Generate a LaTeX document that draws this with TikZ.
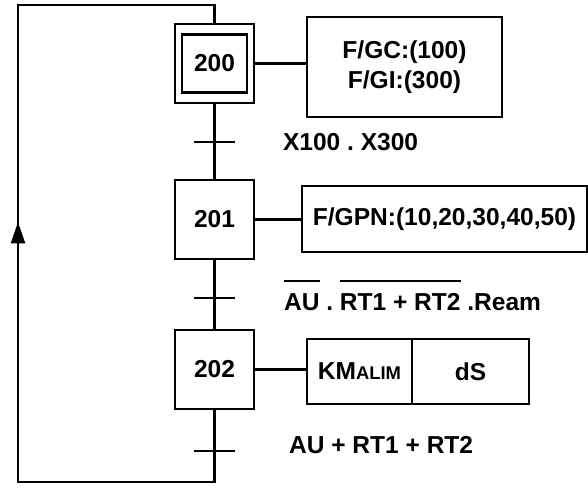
\documentclass[tikz,border=0pt]{standalone}
\usepackage{fontspec}
\setmainfont{Liberation Sans}
\usetikzlibrary{arrows.meta,calc,positioning}
\frenchspacing

% bar over a receptivity variable
\newcommand{\barre}[1]{\leavevmode\vbox{\hrule height 1.5pt \vskip 8pt \hbox{#1}}}

\begin{document}
\begin{tikzpicture}[x=0.75pt, y=-0.75pt, line width=1.6pt, >=Stealth,
    font=\fontsize{18.4}{22.5}\selectfont\bfseries,
    etape/.style={draw, minimum size=59.25pt, inner sep=0pt},
    action/.style={draw, inner sep=0pt, outer sep=0pt},
    recep/.style={anchor=base west, inner sep=0pt}]
    \useasboundingbox (0,0) rectangle (588,487);

    % Steps
    \node[etape] (s200) at (214.5,63.5) {};
    \node[draw, minimum width=48.75pt, minimum height=43.5pt, inner sep=0pt] (s200i) at (s200) {200};
    \node[etape] (s201) at (214.5,219.5) {201};
    \node[etape] (s202) at (214.5,369.5) {202};

    % Actions
    \node[action, minimum width=146.25pt, minimum height=75pt, align=center] (a200) at (404.5,67) {F/GC:(100)\\F/GI:(300)};
    \node[action, minimum width=213.75pt, minimum height=49.5pt] (a201) at (444.5,219) {F/GPN:(10,20,30,40,50)};
    \node[action, minimum width=78.75pt, minimum height=48.75pt] (a202a) at (359.5,371.5) {KM{\fontsize{13.8}{16}\selectfont ALIM}};
    \node[action, minimum width=87.75pt, minimum height=48.75pt, right=0pt of a202a] (a202b) {dS};

    \draw (s200.east) -- (s200.east -| a200.west);
    \draw (s201.east) -- (s201.east -| a201.west);
    \draw (s202.east) -- (s202.east -| a202a.west);

    % Links and loop back
    \coordinate (bl) at (18,482);
    \coordinate (tl) at (18,5);
    \coordinate (fl) at (18,222);
    \draw (s200.south) -- (s201.north);
    \draw (s201.south) -- (s202.north);
    \draw (s202.south) -- (s202.south |- bl) -- (bl) -- (tl) -- (s200.north |- tl) -- (s200.north);
    \draw[-{Triangle[length=16pt,width=10.5pt]}] (bl) -- (fl);

    % Transitions
    \coordinate (t1) at (s200.south |- 0,142);
    \coordinate (t2) at (s201.south |- 0,298);
    \coordinate (t3) at (s202.south |- 0,451);
    \foreach \t in {t1,t2,t3} {
        \draw ([xshift=-15.4pt]\t) -- ([xshift=15.4pt]\t);
    }

    % Receptivities
    \node[recep] (r1) at (282,150) {X100 . X300};
    \node[recep] (r2) at (283,310) {\barre{AU} . \barre{RT1 + RT2} .Ream};
    \node[recep] (r3) at (288,453) {AU + RT1 + RT2};
\end{tikzpicture}
\end{document}
